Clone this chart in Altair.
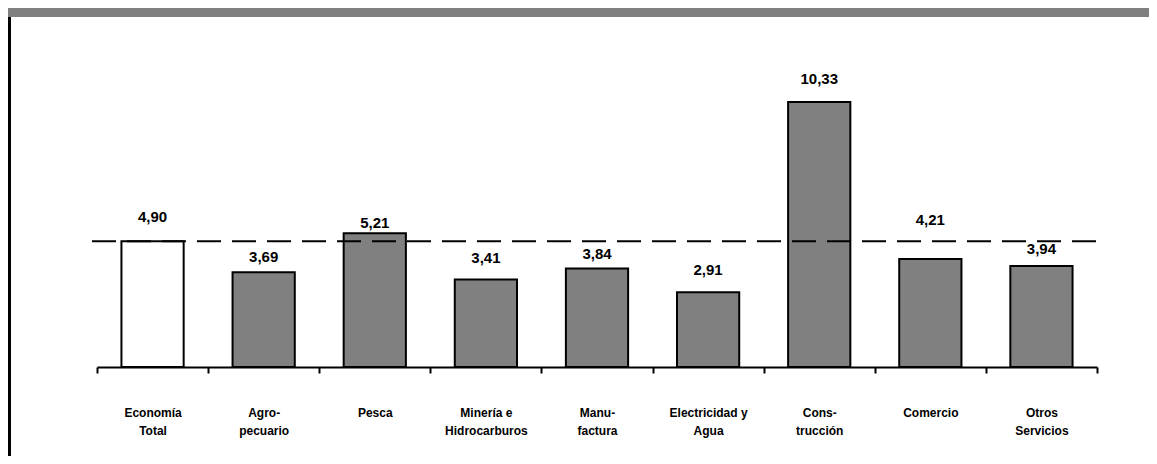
import altair as alt
import pandas as pd

categories = ["Economía\nTotal", "Agro-\npecuario", "Pesca", "Minería e\nHidrocarburos",
              "Manu-\nfactura", "Electricidad y\nAgua", "Cons-\ntrucción", "Comercio",
              "Otros\nServicios"]
values = [4.90, 3.69, 5.21, 3.41, 3.84, 2.91, 10.33, 4.21, 3.94]
reference = 4.90

# layout / style lists (not data): pixel gap between bar top and its label
label_gap = [16, 7, 2, 14, 7, 14, 15, 31, 9]
fills = ["white"] + ["#808080"] * 8

df = pd.DataFrame({
    "cat": categories,
    "value": values,
    "label": [f"{v:.2f}".replace(".", ",") for v in values],
    "gap": label_gap,
    "fill": fills,
})

FONT = "Liberation Sans, Arial, sans-serif"
W, H = 1000, 350
YMAX = 13.645
PL, PT = 89, 9
PR = 1141 - PL - W
PB = 448 - PT - H

xenc = alt.X("cat:N", sort=categories,
             scale=alt.Scale(paddingInner=0, paddingOuter=0),
             axis=alt.Axis(title=None, labelAngle=0, tickBand="extent",
                           labelExpr="split(datum.label, '\\n')",
                           labelFont=FONT, labelFontSize=12, labelFontWeight="bold",
                           labelColor="black", labelBaseline="top", labelLineHeight=18,
                           labelPadding=34, tickSize=6, tickWidth=2, tickColor="black",
                           domainColor="black", domainWidth=2, grid=False))
yscale = alt.Scale(domain=[0, YMAX], nice=False, zero=True)

base = alt.Chart(df)

bars = base.mark_bar(stroke="black", strokeWidth=2,
                     width=alt.RelativeBandSize(0.56)).encode(
    x=xenc,
    y=alt.Y("value:Q", scale=yscale, axis=None),
    fill=alt.Fill("fill:N", scale=None),
)

ref_rule = alt.Chart(pd.DataFrame({"ref": [reference]})).mark_rule(
    color="black", strokeWidth=2, strokeDash=[24, 11]
).encode(
    y=alt.Y("ref:Q", scale=yscale),
    x=alt.value(-5), x2=alt.value(W),
)

labels = base.transform_calculate(
    ly=f"datum.value + datum.gap * {YMAX} / {H}"
).mark_text(font=FONT, fontSize=15, fontWeight="bold", color="black",
            baseline="bottom").encode(
    x=alt.X("cat:N", sort=categories),
    y=alt.Y("ly:Q", scale=yscale),
    text="label:N",
)

band = alt.Chart(pd.DataFrame({"a": [0]})).mark_rect(color="#808080").encode(
    x=alt.value(-PL), x2=alt.value(W + PR), y=alt.value(-PT), y2=alt.value(0)
)
left_line = alt.Chart(pd.DataFrame({"a": [0]})).mark_rule(color="black", strokeWidth=3).encode(
    x=alt.value(-PL + 1.5), y=alt.value(0), y2=alt.value(H + PB)
)

chart = alt.layer(bars, ref_rule, labels, band, left_line).properties(
    width=W, height=H,
    autosize=alt.AutoSizeParams(type="none"),
    padding={"left": PL, "top": PT, "right": PR, "bottom": PB},
).configure(background="white").configure_view(stroke="transparent", strokeWidth=0)

chart.save("out.html", embed_options={"renderer": "svg", "actions": False})
